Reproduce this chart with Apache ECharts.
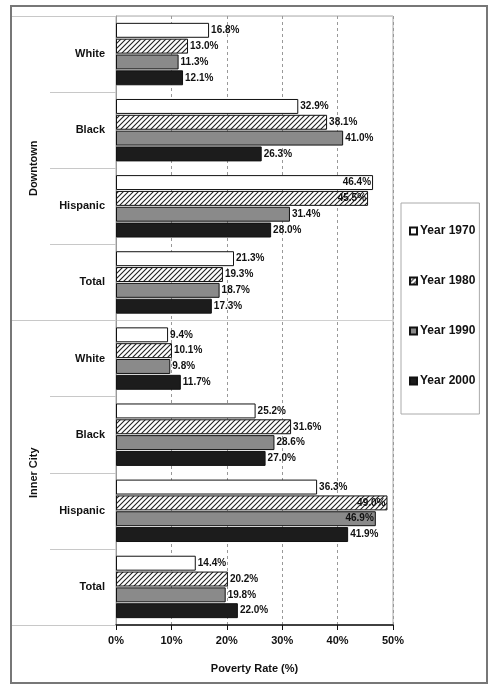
<!DOCTYPE html>
<html>
<head>
<meta charset="utf-8">
<script src="https://cdn.jsdelivr.net/npm/echarts@6/dist/echarts.min.js"></script>
<style>
  html, body { margin: 0; padding: 0; background: #fff; }
  #chart { width: 491px; height: 690px; }
</style>
</head>
<body>
<div id="chart"></div>
<script>
// Poverty rates by area and group, 1970-2000
const groups = ['Downtown', 'Inner City'];
const categories = ['White', 'Black', 'Hispanic', 'Total', 'White', 'Black', 'Hispanic', 'Total'];
const years = ['Year 1970', 'Year 1980', 'Year 1990', 'Year 2000'];
const rate1970 = [16.8, 32.9, 46.4, 21.3, 9.4, 25.2, 36.3, 14.4];
const rate1980 = [13.0, 38.1, 45.5, 19.3, 10.1, 31.6, 49.0, 20.2];
const rate1990 = [11.3, 41.0, 31.4, 18.7, 9.8, 28.6, 46.9, 19.8];
const rate2000 = [12.1, 26.3, 28.0, 17.3, 11.7, 27.0, 41.9, 22.0];
const xTicks = [0, 10, 20, 30, 40, 50];

// diagonal hatch fill for the 1980 bars
function hatch() {
  const c = document.createElement('canvas');
  c.width = 5; c.height = 5;
  const g = c.getContext('2d');
  g.fillStyle = '#fff';
  g.fillRect(0, 0, 5, 5);
  g.strokeStyle = '#222';
  g.lineWidth = 1.1;
  g.beginPath();
  g.moveTo(-1, 6); g.lineTo(6, -1);
  g.moveTo(-1, 1); g.lineTo(1, -1);
  g.moveTo(4, 6); g.lineTo(6, 4);
  g.stroke();
  return c;
}

const fills = ['#ffffff', { image: hatch(), repeat: 'repeat' }, '#8a8a8a', '#1c1c1c'];
const values = [rate1970, rate1980, rate1990, rate2000];
const FONT = '"Liberation Sans", Arial, sans-serif';

const series = years.map((name, i) => ({
  name: name,
  type: 'bar',
  yAxisIndex: 0,
  barGap: '6%',
  barCategoryGap: '18%',
  itemStyle: { color: fills[i], borderColor: '#111', borderWidth: 1 },
  data: values[i].map(v => ({
    value: v,
    label: { position: v > 44 ? 'insideRight' : 'right', distance: 2 }
  })),
  label: {
    show: true,
    formatter: p => p.value.toFixed(1) + '%',
    fontFamily: FONT,
    fontSize: 10,
    fontWeight: 'bold',
    color: '#111'
  }
}));

const chart = echarts.init(document.getElementById('chart'), null, { renderer: 'canvas' });
chart.setOption({
  animation: false,
  backgroundColor: '#fff',
  grid: {
    left: 116, top: 16, right: 98, bottom: 65,
    show: true, borderColor: '#aaa', borderWidth: 1, backgroundColor: 'transparent'
  },
  legend: {
    orient: 'vertical',
    left: 401, top: 203,
    width: 84,
    padding: [22, 4, 27, 8],
    borderColor: '#aaa', borderWidth: 1,
    itemWidth: 7, itemHeight: 7,
    itemGap: 38,
    icon: 'rect',
    textStyle: { fontFamily: FONT, fontSize: 12, fontWeight: 'bold', color: '#111', padding: [0, 0, 0, -2] },
    data: years
  },
  xAxis: {
    type: 'value',
    min: xTicks[0], max: xTicks[xTicks.length - 1], interval: 10,
    name: 'Poverty Rate (%)',
    nameLocation: 'middle',
    nameGap: 38,
    nameTextStyle: { fontFamily: FONT, fontSize: 11, fontWeight: 'bold', color: '#111' },
    axisLine: { show: true, lineStyle: { color: '#111', width: 1.5 } },
    axisTick: { show: true, length: 5, lineStyle: { color: '#111' } },
    axisLabel: { formatter: '{value}%', fontFamily: FONT, fontSize: 11, fontWeight: 'bold', color: '#111', margin: 10 },
    splitLine: { show: true, lineStyle: { color: '#999', type: [3, 3] } }
  },
  yAxis: [
    {
      type: 'category',
      data: categories,
      inverse: true,
      position: 'left',
      axisLine: { show: true, lineStyle: { color: '#999' } },
      axisTick: { show: true, length: 66, lineStyle: { color: '#c8c8c8' } },
      axisLabel: { fontFamily: FONT, fontSize: 11, fontWeight: 'bold', color: '#111', margin: 11 },
      splitLine: { show: false }
    },
    {
      type: 'category',
      data: groups,
      inverse: true,
      position: 'left',
      axisLine: { show: false },
      axisTick: { show: true, length: 104, lineStyle: { color: '#c8c8c8' } },
      axisLabel: { rotate: 90, fontFamily: FONT, fontSize: 11, fontWeight: 'bold', color: '#111', margin: 77 },
      splitLine: { show: true, lineStyle: { color: '#d0d0d0' } }
    }
  ],
  graphic: [
    {
      type: 'rect',
      shape: { x: 11, y: 6, width: 476, height: 677 },
      style: { fill: 'none', stroke: '#777', lineWidth: 2 },
      silent: true
    }
  ],
  series: series
});
</script>
</body>
</html>
